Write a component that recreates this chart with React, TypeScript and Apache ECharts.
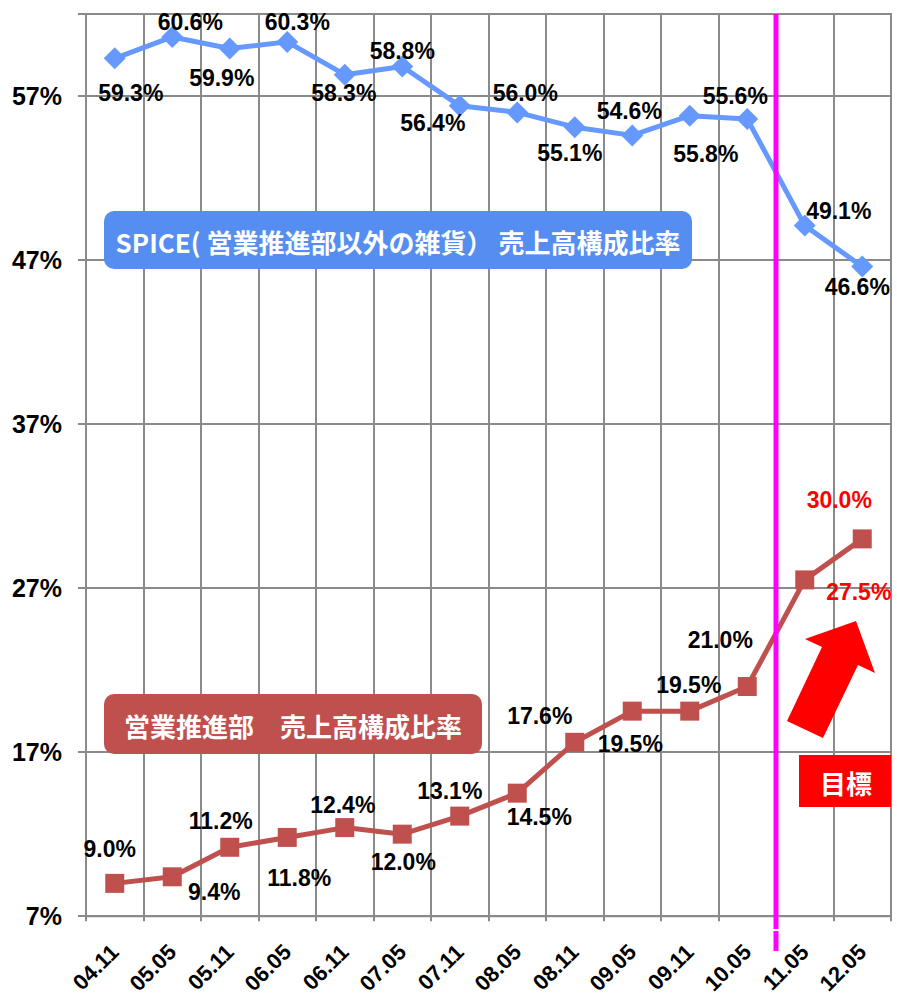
import React, { useEffect, useRef } from "react";
import * as echarts from "echarts";

const categories = ["04.11", "05.05", "05.11", "06.05", "06.11", "07.05", "07.11", "08.05", "08.11", "09.05", "09.11", "10.05", "11.05", "12.05"];
const spiceRatio = [59.3, 60.6, 59.9, 60.3, 58.3, 58.8, 56.4, 56.0, 55.1, 54.6, 55.8, 55.6, 49.1, 46.6];
const promoRatio = [9.0, 9.4, 11.2, 11.8, 12.4, 12.0, 13.1, 14.5, 17.6, 19.5, 19.5, 21.0, 27.5, 30.0];
const yTickLabels = [7, 17, 27, 37, 47, 57];
const targetIndices = [12, 13];

// label placement offsets (style only)
const spiceLabelOffsets = [[16, 35], [18, -15], [-8, 30], [10, -20], [-1, 18], [0, -15], [-27, 17], [8, -19], [-5, 26], [-3, -24], [16, 38], [-12, -23], [34, -15], [-5, 20]];
const promoLabelOffsets = [[-5, -34], [42, 15], [-9, -26], [12, 41], [-2, -23], [1, 28], [-10, -25], [22, 24], [-35, -26], [-2, 33], [-1, -26], [-27, -47], [54, 12], [-23, -39]];

const NUM_FONT = "'Liberation Sans', Arial, sans-serif";
const JP_FONT = "'Noto Sans CJK JP', sans-serif";

export default function App() {
  const ref = useRef<HTMLDivElement>(null);
  useEffect(() => {
    if (!ref.current) return;
    const chart = echarts.init(ref.current, null, { renderer: "svg" });
    const labelBase = {
      show: true,
      position: "inside",
      fontFamily: NUM_FONT,
      fontSize: 23,
      fontWeight: "bold",
      color: "#000",
      formatter: (p: any) => Number(p.value).toFixed(1) + "%",
    };
    chart.setOption({
      animation: false,
      backgroundColor: "#fff",
      grid: { left: 86, right: 6, top: 14, bottom: 79, show: true, borderColor: "#8a8a8a", borderWidth: 2, backgroundColor: "transparent" },
      xAxis: {
        type: "category",
        data: categories,
        boundaryGap: true,
        axisLine: { lineStyle: { color: "#8a8a8a", width: 2 } },
        axisTick: { show: true, length: 5, alignWithLabel: false, interval: 0, lineStyle: { color: "#8a8a8a", width: 2 } },
        splitLine: { show: true, interval: 0, lineStyle: { color: "#8a8a8a", width: 2 } },
        axisLabel: { interval: 0, rotate: 45, margin: 32, fontSize: 22, fontWeight: "bold", fontFamily: NUM_FONT, color: "#000" },
      },
      yAxis: {
        type: "value",
        min: 7,
        max: 62,
        interval: 10,
        axisLine: { show: true, lineStyle: { color: "#8a8a8a", width: 2 } },
        axisTick: { show: true, length: 8, lineStyle: { color: "#8a8a8a", width: 2 } },
        splitLine: { show: true, lineStyle: { color: "#8a8a8a", width: 2 } },
        axisLabel: {
          margin: 24,
          fontSize: 25,
          fontWeight: "bold",
          fontFamily: NUM_FONT,
          color: "#000",
          formatter: (v: number) => (yTickLabels.includes(v) ? v + "%" : ""),
        },
      },
      series: [
        {
          type: "line",
          name: "SPICE",
          data: spiceRatio.map((v, i) => ({ value: v, label: { ...labelBase, offset: spiceLabelOffsets[i] } })),
          symbol: "diamond",
          symbolSize: 22,
          lineStyle: { color: "#6699ff", width: 5 },
          itemStyle: { color: "#6699ff" },
          z: 3,
        },
        {
          type: "line",
          name: "営業推進部",
          data: promoRatio.map((v, i) => ({
            value: v,
            label: { ...labelBase, offset: promoLabelOffsets[i], color: targetIndices.includes(i) ? "#ff0000" : "#000" },
          })),
          symbol: "rect",
          symbolSize: 19,
          lineStyle: { color: "#c0504d", width: 5 },
          itemStyle: { color: "#c0504d" },
          z: 3,
        },
      ],
      graphic: [
        { type: "line", z: 50, shape: { x1: 776, y1: 14, x2: 776, y2: 929 }, style: { stroke: "#ff00ff", lineWidth: 5 } },
        { type: "line", z: 50, shape: { x1: 776, y1: 931, x2: 776, y2: 951 }, style: { stroke: "#ff00ff", lineWidth: 5 } },
        { type: "rect", z: 40, shape: { x: 104, y: 211, width: 588, height: 58, r: 10 }, style: { fill: "#558ef0" } },
        {
          type: "text", z: 41, x: 398, y: 241,
          style: { text: "SPICE( 営業推進部以外の雑貨） 売上高構成比率", fill: "#fff", font: `bold 26px ${JP_FONT}`, align: "center", verticalAlign: "middle" },
        },
        { type: "rect", z: 40, shape: { x: 104, y: 694, width: 378, height: 60, r: 10 }, style: { fill: "#c0504d" } },
        {
          type: "text", z: 41, x: 293, y: 725,
          style: { text: "営業推進部　売上高構成比率", fill: "#fff", font: `bold 26px ${JP_FONT}`, align: "center", verticalAlign: "middle" },
        },
        { type: "rect", z: 40, shape: { x: 799, y: 755, width: 92, height: 52 }, style: { fill: "#ff0000" } },
        {
          type: "text", z: 41, x: 846, y: 782,
          style: { text: "目標", fill: "#fff", font: `bold 26px ${JP_FONT}`, align: "center", verticalAlign: "middle" },
        },
        {
          type: "polygon", z: 40,
          shape: { points: [[787, 721], [822, 647], [805, 639], [856, 621], [875, 673], [858, 665], [823, 738]] },
          style: { fill: "#ff0000" },
        },
      ],
    });
    return () => chart.dispose();
  }, []);
  return <div ref={ref} style={{ position: "fixed", left: 0, top: 0, width: 897, height: 997, background: "#fff" }} />;
}
